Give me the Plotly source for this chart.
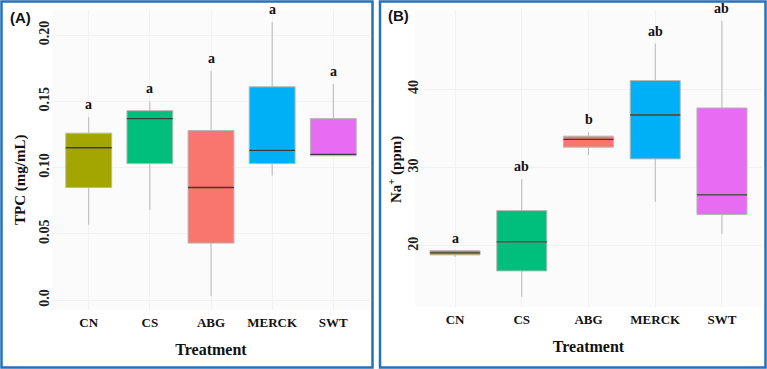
import plotly.graph_objects as go

categories = ["CN", "CS", "ABG", "MERCK", "SWT"]
colors = ["#A3A500", "#00BF7D", "#F8766D", "#00B0F6", "#E76BF3"]

# Panel A: TPC (mg/mL)
tpc_low = [0.057, 0.068, 0.003, 0.094, 0.109]
tpc_q1 = [0.085, 0.103, 0.043, 0.103, 0.109]
tpc_med = [0.115, 0.137, 0.085, 0.113, 0.110]
tpc_q3 = [0.126, 0.143, 0.128, 0.161, 0.137]
tpc_high = [0.138, 0.150, 0.173, 0.210, 0.163]
tpc_letters = ["a", "a", "a", "a", "a"]

# Panel B: Na+ (ppm)
na_low = [18.6, 13.5, 31.6, 25.6, 21.5]
na_q1 = [18.85, 16.8, 32.6, 31.1, 24.0]
na_med = [19.1, 20.5, 33.6, 36.7, 26.5]
na_q3 = [19.4, 24.5, 34.0, 41.1, 37.6]
na_high = [19.4, 28.5, 34.5, 45.8, 48.7]
na_letters = ["a", "ab", "b", "ab", "ab"]

W, H = 767, 369
serif = "Liberation Serif"

fig = go.Figure()

def add_panel(xa, ya, low, q1, med, q3, high, letters):
    for i, c in enumerate(categories):
        fig.add_trace(go.Box(
            x=[c], q1=[q1[i]], median=[med[i]], q3=[q3[i]],
            lowerfence=[low[i]], upperfence=[high[i]],
            fillcolor=colors[i], line=dict(color="#b8b8b8", width=1),
            whiskerwidth=0, width=0.75, boxpoints=False,
            xaxis=xa, yaxis=ya, showlegend=False, hoverinfo="skip"))
        fig.add_trace(go.Box(
            x=[c], q1=[med[i]], median=[med[i]], q3=[med[i]],
            lowerfence=[med[i]], upperfence=[med[i]],
            fillcolor="rgba(0,0,0,0)", line=dict(color="#3b3b3b", width=1.3),
            whiskerwidth=0, width=0.75, boxpoints=False,
            xaxis=xa, yaxis=ya, showlegend=False, hoverinfo="skip"))
        fig.add_annotation(x=c, y=high[i], text=letters[i], showarrow=False,
                           xref=xa, yref=ya, yanchor="bottom", yshift=3,
                           font=dict(family=serif, size=14, color="#111", weight="bold"))

add_panel("x", "y", tpc_low, tpc_q1, tpc_med, tpc_q3, tpc_high, tpc_letters)
add_panel("x2", "y2", na_low, na_q1, na_med, na_q3, na_high, na_letters)

tickfont = dict(family=serif, size=14, color="#222", weight="bold")
catfont = dict(family=serif, size=13, color="#111", weight="bold")
titlefont_x = dict(family=serif, size=16, color="#111", weight="bold")
titlefont_y = dict(family=serif, size=15, color="#111", weight="bold")

common_x = dict(type="category", categoryorder="array", categoryarray=categories,
                range=[-0.6, 4.6], showgrid=True, gridcolor="#f1f1f1",
                tickfont=catfont, ticks="", zeroline=False, showline=False,
                ticklabelstandoff=3,
                title=dict(text="Treatment", font=titlefont_x, standoff=14))
common_y = dict(showgrid=True, gridcolor="#f1f1f1", tickangle=-90, tickfont=tickfont,
                ticks="", zeroline=False, showline=False)

fig.update_layout(
    width=W, height=H, margin=dict(l=0, r=0, t=0, b=0),
    paper_bgcolor="white", plot_bgcolor="#fbfbfb", boxmode="overlay",
    xaxis=dict(domain=[52 / W, 370 / W], anchor="y", **common_x),
    xaxis2=dict(domain=[415 / W, 762 / W], anchor="y2", **common_x),
    yaxis=dict(domain=[1 - 310 / H, 1 - 10 / H], anchor="x", range=[-0.0075, 0.219],
               tickvals=[0.0, 0.05, 0.10, 0.15, 0.20],
               ticktext=["0.0", "0.05", "0.10", "0.15", "0.20"],
               ticklabelstandoff=-1, **common_y),
    yaxis2=dict(domain=[1 - 307 / H, 1 - 10 / H], anchor="x2", range=[12.2, 50.1],
                tickvals=[20, 30, 40], ticklabelstandoff=-7, **common_y),
)

# Y-axis titles
fig.add_annotation(x=20 / W, y=1 - 180 / H, xref="paper", yref="paper", text="TPC (mg/mL)",
                   showarrow=False, textangle=-90, xanchor="center", yanchor="middle",
                   font=titlefont_y)
fig.add_annotation(x=395 / W, y=1 - 170 / H, xref="paper", yref="paper",
                   text="Na<sup>+</sup> (ppm)",
                   showarrow=False, textangle=-90, xanchor="center", yanchor="middle",
                   font=titlefont_y)

# Panel labels
fig.add_annotation(x=8 / W, y=1 - 17 / H, xref="paper", yref="paper", text="(A)",
                   showarrow=False, xanchor="left", yanchor="middle",
                   font=dict(family="Liberation Sans", size=15, color="#111", weight="bold"))
fig.add_annotation(x=386 / W, y=1 - 15 / H, xref="paper", yref="paper", text="(B)",
                   showarrow=False, xanchor="left", yanchor="middle",
                   font=dict(family="Liberation Sans", size=15, color="#111", weight="bold"))

# Blue panel borders
for x0, x1 in [(1.5, 372.5), (380, 765.5)]:
    fig.add_shape(type="rect", xref="paper", yref="paper",
                  x0=x0 / W, x1=x1 / W, y0=1 - 367.5 / H, y1=1 - 1.5 / H,
                  line=dict(color="#2471bd", width=2.5), fillcolor="rgba(0,0,0,0)")

fig.write_html("out.html")
